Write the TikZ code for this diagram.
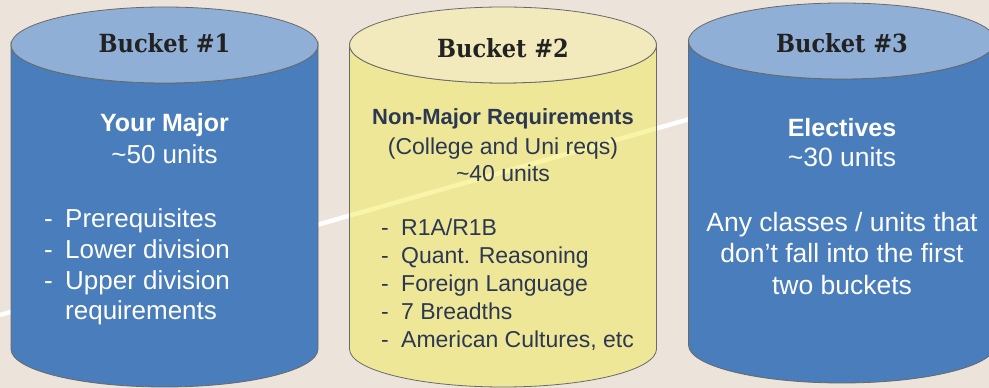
\documentclass[tikz,border=0pt]{standalone}
\usepackage{fontspec}
\setmainfont{Liberation Sans}
\newfontfamily\titlefont{DejaVu Serif Condensed}
\definecolor{paper}{RGB}{236,227,218}
\definecolor{blueside}{RGB}{74,125,187}
\definecolor{bluelid}{RGB}{143,175,214}
\definecolor{yellowside}{RGB}{243,236,98}
\definecolor{yellowlid}{RGB}{242,234,188}
\definecolor{rimgray}{RGB}{105,105,105}
\definecolor{titleink}{RGB}{34,34,34}
\definecolor{navyink}{RGB}{44,56,82}

\begin{document}
\begin{tikzpicture} [x=1pt, y=1pt, every node/.style={inner sep=0pt},
    rim/.style={draw=rimgray, line width=0.8pt},
    label/.style={anchor=base, font=\titlefont\bfseries\fontsize{25}{30}\selectfont, text=titleink},
    headA/.style={anchor=base, font=\bfseries\fontsize{25}{30}\selectfont, text=white},
    lineA/.style={anchor=base, font=\fontsize{26}{31}\selectfont, text=white},
    itemA/.style={lineA, anchor=base west},
    lineC/.style={lineA, font=\fontsize{26.5}{32}\selectfont},
    headB/.style={anchor=base, font=\bfseries\fontsize{22}{27}\selectfont, text=navyink},
    lineB/.style={anchor=base, font=\fontsize{23}{28}\selectfont, text=navyink},
    itemB/.style={lineB, anchor=base west},]
\useasboundingbox (0,0) rectangle (989,388);
\clip (0,0) rectangle (989,388);
\fill[paper] (0,0) rectangle (989,388);

% white sweep behind the buckets
\coordinate (sweepstart) at (0,73);
\coordinate (sweepend) at (760,289);
\draw[white, line width=4.5pt] (sweepstart) -- (sweepend);

% the three buckets
\foreach \cx/\ytop/\ybot/\side/\lid/\op in {164.5/343/39/blueside/bluelid/1,
    503/343/39/yellowside/yellowlid/0.55, 842/347/43/blueside/bluelid/1}{
  \path[rim, fill=\side, fill opacity=\op] (\cx+153.5,\ytop) -- (\cx+153.5,\ybot)
      arc[start angle=0, end angle=-180, x radius=153.5, y radius=38] -- (\cx-153.5,\ytop)
      arc[start angle=180, end angle=360, x radius=153.5, y radius=38] -- cycle;
  \path[rim, fill=\lid] (\cx,\ytop) ellipse[x radius=153.5, y radius=38];
}

% Bucket 1
\node[label] (title1) at (164.5,335) {Bucket \#1};
\node[headA] (major) at (164.5,256) {Your Major};
\node[lineA] (majorunits) at (164.5,224) {\textasciitilde50 units};
\foreach \txt [count=\i] in {Prerequisites, Lower division, Upper division}{
  \node[itemA] (majdash\i) at (44,{160-30.7*(\i-1)}) {-};
  \node[itemA] (majitem\i) at (65,{160-30.7*(\i-1)}) {\txt};
}
\node[itemA] (majitem4) at (65,68) {requirements};

% Bucket 2
\node[label] (title2) at (503,330) {Bucket \#2};
\node[headB] (nonmajor) at (503,263) {Non-Major Requirements};
\node[lineB] (nonmajornote) at (503,233) {(College and Uni reqs)};
\node[lineB] (nonmajorunits) at (503,206) {\textasciitilde40 units};
\foreach \txt [count=\i] in {R1A/R1B, Quant. Reasoning, Foreign Language, 7 Breadths, {American Cultures, etc}}{
  \node[itemB] (reqdash\i) at (381,{152-28*(\i-1)}) {-};
  \node[itemB] (reqitem\i) at (401,{152-28*(\i-1)}) {\txt};
}

% Bucket 3
\node[label] (title3) at (842,335) {Bucket \#3};
\node[headA] (electives) at (842,251) {Electives};
\node[lineC] (electiveunits) at (842,221) {\textasciitilde30 units};
\node[lineC] (elective1) at (842,156) {Any classes / units that};
\node[lineC] (elective2) at (842,125) {don’t fall into the first};
\node[lineC] (elective3) at (842,93) {two buckets};

\end{tikzpicture}
\end{document}
